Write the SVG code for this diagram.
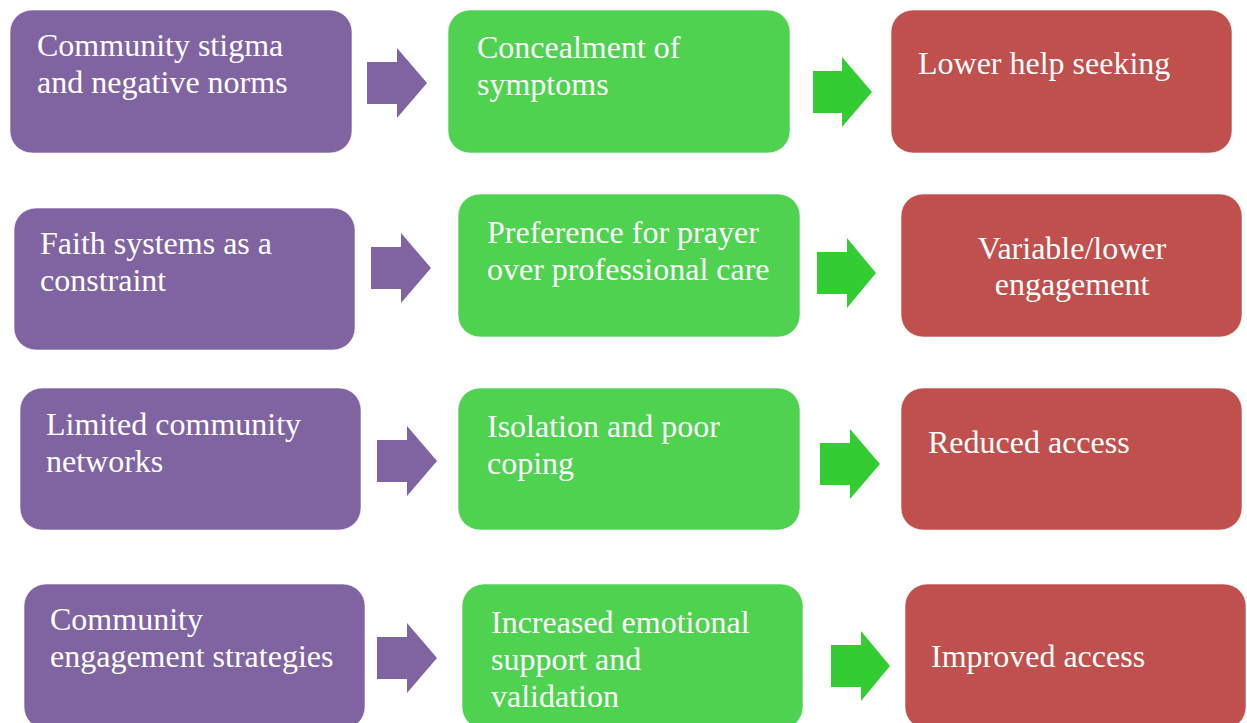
<svg xmlns="http://www.w3.org/2000/svg" width="1247" height="723" viewBox="0 0 1247 723">
<style>
.p{fill:#8064A2;stroke:#ffffff;stroke-opacity:0.6;stroke-width:1}
.g{fill:#4ED24F;stroke:#ffffff;stroke-opacity:0.6;stroke-width:1}
.r{fill:#C0504D;stroke:#ffffff;stroke-opacity:0.6;stroke-width:1}
.ap{fill:#8064A2}
.ag{fill:#33CC33}
text{font-family:"Liberation Serif","Times New Roman",serif;font-size:32px;fill:#ffffff}
.c{text-anchor:middle}
</style>
<rect width="1247" height="723" fill="#ffffff"/>
<g id="connectors">
<polygon class="ap" points="367,62 397,62 397,48 427,83 397,118 397,104 367,104"/>
<polygon class="ag" points="813,71 842,71 842,57 872,92 842,127 842,113 813,113"/>
<polygon class="ap" points="371,247 401,247 401,233 431,268 401,303 401,289 371,289"/>
<polygon class="ag" points="817,252 847,252 847,238 876,273 847,308 847,294 817,294"/>
<polygon class="ap" points="377,440 407,440 407,426 437,461 407,496 407,482 377,482"/>
<polygon class="ag" points="820,443 850,443 850,429 880,464 850,499 850,485 820,485"/>
<polygon class="ap" points="377,637 407,637 407,623 437,658 407,693 407,679 377,679"/>
<polygon class="ag" points="831,645 861,645 861,631 890,666 861,701 861,687 831,687"/>
</g>
<g id="n1a"><rect class="p" x="10" y="10" width="342" height="143" rx="22"/><text x="37" y="56">Community stigma</text><text x="37" y="93">and negative norms</text></g>
<g id="n1b"><rect class="g" x="448" y="10" width="342" height="143" rx="22"/><text x="477" y="58">Concealment of</text><text x="477" y="95">symptoms</text></g>
<g id="n1c"><rect class="r" x="891" y="10" width="341" height="143" rx="22"/><text x="918" y="74">Lower help seeking</text></g>
<g id="n2a"><rect class="p" x="14" y="208" width="341" height="142" rx="22"/><text x="40" y="254">Faith systems as a</text><text x="40" y="291">constraint</text></g>
<g id="n2b"><rect class="g" x="458" y="194" width="342" height="143" rx="22"/><text x="487" y="243">Preference for prayer</text><text x="487" y="280">over professional care</text></g>
<g id="n2c"><rect class="r" x="901" y="194" width="341" height="143" rx="22"/><text class="c" x="1072" y="259">Variable/lower</text><text class="c" x="1072" y="295">engagement</text></g>
<g id="n3a"><rect class="p" x="20" y="388" width="341" height="142" rx="22"/><text x="46" y="435">Limited community</text><text x="46" y="472">networks</text></g>
<g id="n3b"><rect class="g" x="458" y="388" width="342" height="142" rx="22"/><text x="487" y="437">Isolation and poor</text><text x="487" y="474">coping</text></g>
<g id="n3c"><rect class="r" x="901" y="388" width="341" height="142" rx="22"/><text x="928" y="453">Reduced access</text></g>
<g id="n4a"><rect class="p" x="24" y="584" width="341" height="145" rx="22"/><text x="50" y="630">Community</text><text x="50" y="667">engagement strategies</text></g>
<g id="n4b"><rect class="g" x="462" y="584" width="341" height="145" rx="22"/><text x="491" y="633">Increased emotional</text><text x="491" y="670">support and</text><text x="491" y="707">validation</text></g>
<g id="n4c"><rect class="r" x="905" y="584" width="341" height="145" rx="22"/><text x="931" y="667">Improved access</text></g>
</svg>
